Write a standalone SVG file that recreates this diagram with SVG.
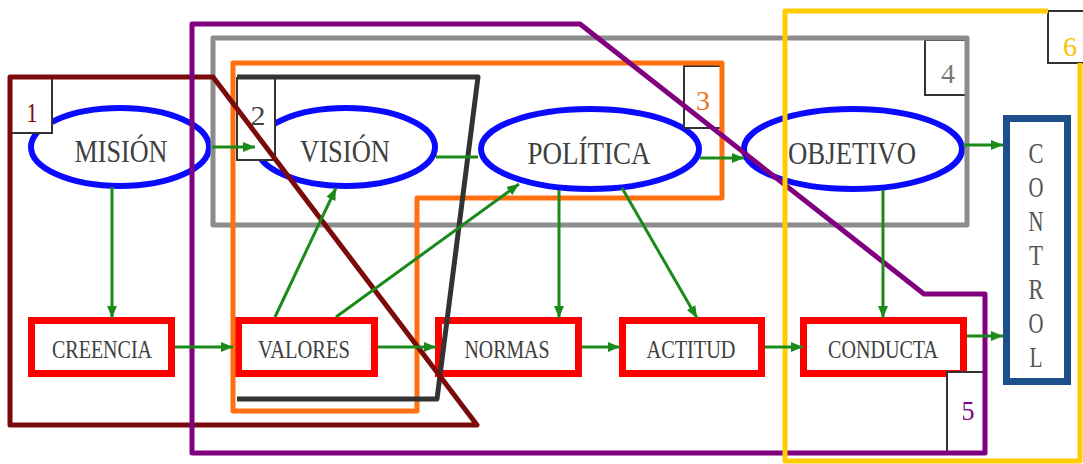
<svg xmlns="http://www.w3.org/2000/svg" width="1083" height="464" viewBox="0 0 1083 464">
<defs>
<marker id="ah" viewBox="0 0 12 10" refX="12" refY="5" markerWidth="12" markerHeight="10" markerUnits="userSpaceOnUse" orient="auto"><path d="M0,0 L12,5 L0,10 z" fill="#1b8a1b"/></marker>
</defs>
<style>
.ell{fill:#fff;stroke:#0a0aff;stroke-width:6}
.box{fill:#fff;stroke:#ff0000;stroke-width:7}
.lbl{fill:#404040;text-anchor:middle}
.big{font-size:31px}
.sm{font-size:26px}
.num{font-size:28px;text-anchor:middle}
.nb{fill:#fff;stroke:#333;stroke-width:2}
.reg{fill:none;stroke-width:5;stroke-linejoin:round}
.cn{stroke:#1b8a1b;stroke-width:3;fill:none}
.ctl{font-size:29px;fill:#555;text-anchor:middle}
</style>
<rect width="1083" height="464" fill="#fff"/>
<g font-family="Liberation Serif, Times New Roman, serif">
<g id="node-mision"><ellipse class="ell" cx="120" cy="147" rx="89" ry="39"/><text class="lbl big" x="121" y="162" textLength="93" lengthAdjust="spacingAndGlyphs">MISIÓN</text></g>
<g id="node-vision"><ellipse class="ell" cx="346" cy="147" rx="89" ry="39"/><text class="lbl big" x="345" y="162" textLength="90" lengthAdjust="spacingAndGlyphs">VISIÓN</text></g>
<g id="node-politica"><ellipse class="ell" cx="590" cy="149" rx="109" ry="40"/><text class="lbl big" x="589" y="164" textLength="123" lengthAdjust="spacingAndGlyphs">POLÍTICA</text></g>
<g id="node-objetivo"><ellipse class="ell" cx="853" cy="149" rx="109" ry="40"/><text class="lbl big" x="852" y="164" textLength="128" lengthAdjust="spacingAndGlyphs">OBJETIVO</text></g>
<g id="node-creencia"><rect class="box" x="31.5" y="320.5" width="140" height="53"/><text class="lbl sm" x="102" y="358" textLength="100" lengthAdjust="spacingAndGlyphs">CREENCIA</text></g>
<g id="node-valores"><rect class="box" x="238.5" y="320.5" width="136" height="53"/><text class="lbl sm" x="304" y="358" textLength="92" lengthAdjust="spacingAndGlyphs">VALORES</text></g>
<g id="node-normas"><rect class="box" x="438.5" y="320.5" width="140" height="53"/><text class="lbl sm" x="507" y="358" textLength="85" lengthAdjust="spacingAndGlyphs">NORMAS</text></g>
<g id="node-actitud"><rect class="box" x="622.5" y="320.5" width="139" height="53"/><text class="lbl sm" x="691" y="358" textLength="89" lengthAdjust="spacingAndGlyphs">ACTITUD</text></g>
<g id="node-conducta"><rect class="box" x="803.5" y="320.5" width="160" height="53"/><text class="lbl sm" x="883" y="358" textLength="110" lengthAdjust="spacingAndGlyphs">CONDUCTA</text></g>
<g id="node-control"><rect x="1006.5" y="118.5" width="61" height="263" fill="#fff" stroke="#1d4f8a" stroke-width="7"/>
<text class="ctl" x="1036" y="163" textLength="15" lengthAdjust="spacingAndGlyphs">C</text>
<text class="ctl" x="1036" y="197" textLength="15" lengthAdjust="spacingAndGlyphs">O</text>
<text class="ctl" x="1036" y="231" textLength="15" lengthAdjust="spacingAndGlyphs">N</text>
<text class="ctl" x="1036" y="265" textLength="14" lengthAdjust="spacingAndGlyphs">T</text>
<text class="ctl" x="1036" y="299" textLength="15" lengthAdjust="spacingAndGlyphs">R</text>
<text class="ctl" x="1036" y="333" textLength="15" lengthAdjust="spacingAndGlyphs">O</text>
<text class="ctl" x="1036" y="367" textLength="13" lengthAdjust="spacingAndGlyphs">L</text>
</g>
<g id="labels">
<g id="tag1"><rect class="nb" x="10" y="77" width="42" height="56"/><text class="num" x="32" y="122" fill="#7b0a0a" textLength="11" lengthAdjust="spacingAndGlyphs">1</text></g>
<g id="tag2"><rect class="nb" x="237" y="78" width="38" height="82"/><text class="num" x="258" y="125" fill="#444" textLength="15" lengthAdjust="spacingAndGlyphs">2</text></g>
<g id="tag3"><rect class="nb" x="684" y="66" width="38" height="62"/><text class="num" x="703" y="110" fill="#f07020" textLength="14" lengthAdjust="spacingAndGlyphs">3</text></g>
<g id="tag4"><rect class="nb" x="925" y="40" width="42" height="55"/><text class="num" x="948" y="83" fill="#777" textLength="14" lengthAdjust="spacingAndGlyphs">4</text></g>
<g id="tag5"><rect class="nb" x="947" y="372" width="38" height="80"/><text class="num" x="968" y="420" fill="#800080" textLength="13" lengthAdjust="spacingAndGlyphs">5</text></g>
<g id="tag6"><rect class="nb" x="1048" y="11" width="40" height="52"/><text class="num" x="1070" y="56" fill="#f5c400" textLength="14" lengthAdjust="spacingAndGlyphs">6</text></g>
</g>
</g>
<g id="regions">
<path class="reg" stroke="#8c8c8c" d="M213,38 L967,38 L967,225 L213,225 Z"/>
<path class="reg" stroke="#ff7010" d="M233,63 L722,63 L722,198 L417,198 L417,411 L233,411 Z"/>
<path class="reg" stroke="#333" d="M237,77 L478,77 L437,399 L237,399"/>
<path class="reg" stroke="#7b0a0a" d="M10,77 L213,77 L477,425 L10,425 Z"/>
<path class="reg" stroke="#800080" d="M192,24 L580,24 L924,294 L985,294 L985,453 L192,453 Z"/>
<path class="reg" stroke="#ffcc00" stroke-width="3.5" d="M1048,11 L785,11 L785,461 L1080,461 L1080,63"/>
</g>
<g id="connectors">
<path class="cn" d="M212,147 L255,147" marker-end="url(#ah)"/>
<path class="cn" d="M436,157 L478,157"/>
<path class="cn" d="M700,158 L744,158" marker-end="url(#ah)"/>
<path class="cn" d="M963,145 L1003,145" marker-end="url(#ah)"/>
<path class="cn" d="M112,187 L112,318" marker-end="url(#ah)"/>
<path class="cn" d="M175,347 L233,347" marker-end="url(#ah)"/>
<path class="cn" d="M378,347 L436,347" marker-end="url(#ah)"/>
<path class="cn" d="M582,347 L620,347" marker-end="url(#ah)"/>
<path class="cn" d="M765,347 L803,347" marker-end="url(#ah)"/>
<path class="cn" d="M967,336 L1003,336" marker-end="url(#ah)"/>
<path class="cn" d="M275,317 L336,188" marker-end="url(#ah)"/>
<path class="cn" d="M336,317 L519,184" marker-end="url(#ah)"/>
<path class="cn" d="M559,190 L559,318" marker-end="url(#ah)"/>
<path class="cn" d="M622,188 L697,318" marker-end="url(#ah)"/>
<path class="cn" d="M883,190 L883,318" marker-end="url(#ah)"/>
</g>
</svg>
